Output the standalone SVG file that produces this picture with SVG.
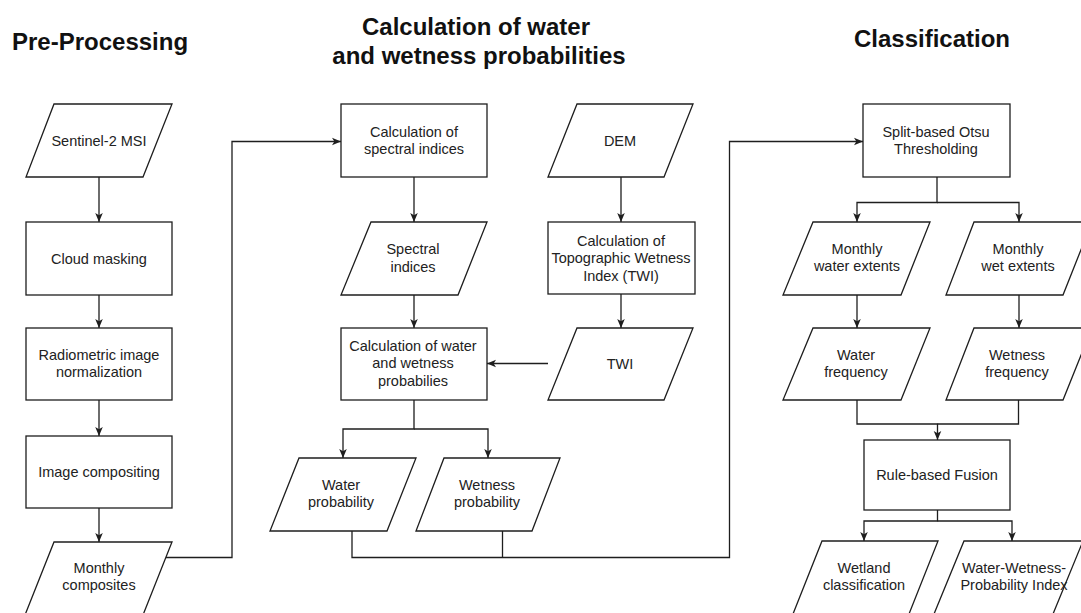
<svg xmlns="http://www.w3.org/2000/svg" width="1081" height="613" viewBox="0 0 1081 613">
<defs>
<marker id="arr" viewBox="0 0 10 10" refX="10" refY="5" markerWidth="9" markerHeight="9" markerUnits="userSpaceOnUse" orient="auto">
<path d="M0,0.8 L10,5 L0,9.2 L2.6,5 z" fill="#1e1e1e"/>
</marker>
<style>
.shape{fill:#fff;stroke:#1e1e1e;stroke-width:1.3}
.t{font-family:"Liberation Sans",Arial,sans-serif;font-size:14.5px;fill:#222;text-anchor:middle}
.h{font-family:"Liberation Sans",Arial,sans-serif;font-size:24px;font-weight:bold;fill:#111}
.c{fill:none;stroke:#1e1e1e;stroke-width:1.3}
.a{marker-end:url(#arr)}
</style>
</defs>
<rect width="1081" height="613" fill="#fff"/>

<g id="titles">
<text class="h" x="12" y="50">Pre-Processing</text>
<text class="h" text-anchor="middle"><tspan x="476" y="35">Calculation of water</tspan><tspan x="479" y="64">and wetness probabilities</tspan></text>
<text class="h" x="932" y="47" text-anchor="middle">Classification</text>
</g>

<g id="connectors">
<path class="c a" d="M99,177 V222"/>
<path class="c a" d="M99,295 V328"/>
<path class="c a" d="M99,400 V436"/>
<path class="c a" d="M99,508 V542"/>
<path class="c a" d="M166,557.5 H232 V141.5 H341"/>
<path class="c a" d="M414,177 V222"/>
<path class="c a" d="M414,295 V328"/>
<path class="c a" d="M621,177 V222"/>
<path class="c a" d="M621,294 V328"/>
<path class="c a" d="M548,363.5 H487"/>
<path class="c a" d="M414,400 V429 H343 V458"/>
<path class="c a" d="M414,429 H488 V458"/>
<path class="c a" d="M352,531 V557.5 H729.5 V141.5 H863"/>
<path class="c" d="M502.5,531 V557.5"/>
<path class="c a" d="M937,177 V202.5 H857 V222"/>
<path class="c a" d="M937,202.5 H1019 V222"/>
<path class="c a" d="M857,295 V328"/>
<path class="c a" d="M1019,295 V328"/>
<path class="c a" d="M857,400 V424 H937.5 V440"/>
<path class="c" d="M1018.5,400 V424 H937.5"/>
<path class="c a" d="M937.5,510 V521 H864 V541"/>
<path class="c a" d="M937.5,521 H1012 V541"/>
</g>

<g id="sentinel"><polygon class="shape" points="54,104 172,104 143,177 26,177"/><text class="t" x="99" y="145.5">Sentinel-2 MSI</text></g>
<g id="cloud"><rect class="shape" x="26" y="222" width="146" height="73"/><text class="t" x="99" y="263.5">Cloud masking</text></g>
<g id="radiometric"><rect class="shape" x="26" y="328" width="146" height="72"/><text class="t"><tspan x="99" y="360">Radiometric image</tspan><tspan x="99" y="377.3">normalization</tspan></text></g>
<g id="compositing"><rect class="shape" x="26" y="436" width="146" height="72"/><text class="t" x="99" y="477">Image compositing</text></g>
<g id="monthly-composites"><polygon class="shape" points="54,542 172,542 143,615 25,615"/><text class="t"><tspan x="99" y="573">Monthly</tspan><tspan x="99" y="590.3">composites</tspan></text></g>

<g id="calc-spectral"><rect class="shape" x="341" y="104" width="146" height="73"/><text class="t"><tspan x="414" y="136.5">Calculation of</tspan><tspan x="414" y="153.8">spectral indices</tspan></text></g>
<g id="spectral-indices"><polygon class="shape" points="371,222 487,222 458,295 341,295"/><text class="t"><tspan x="413" y="254.3">Spectral</tspan><tspan x="413" y="271.6">indices</tspan></text></g>
<g id="calc-water"><rect class="shape" x="341" y="328" width="146" height="72"/><text class="t"><tspan x="413" y="351">Calculation of water</tspan><tspan x="413" y="368.3">and wetness</tspan><tspan x="413" y="385.6">probabilies</tspan></text></g>
<g id="dem"><polygon class="shape" points="577,104 693,104 664,177 548,177"/><text class="t" x="620" y="145.5">DEM</text></g>
<g id="calc-twi"><rect class="shape" x="548" y="222" width="147" height="72"/><text class="t"><tspan x="621" y="246">Calculation of</tspan><tspan x="621" y="263.3">Topographic Wetness</tspan><tspan x="621" y="280.6">Index (TWI)</tspan></text></g>
<g id="twi"><polygon class="shape" points="577,328 693,328 664,400 548,400"/><text class="t" x="620" y="369">TWI</text></g>
<g id="water-prob"><polygon class="shape" points="299,458 416,458 387,531 270,531"/><text class="t"><tspan x="341" y="490">Water</tspan><tspan x="341" y="507.3">probability</tspan></text></g>
<g id="wetness-prob"><polygon class="shape" points="444,458 560,458 532,531 416,531"/><text class="t"><tspan x="487" y="490">Wetness</tspan><tspan x="487" y="507.3">probability</tspan></text></g>

<g id="otsu"><rect class="shape" x="863" y="104" width="147" height="73"/><text class="t"><tspan x="936" y="137">Split-based Otsu</tspan><tspan x="936" y="154.3">Thresholding</tspan></text></g>
<g id="water-extents"><polygon class="shape" points="813,222 930,222 901,295 783,295"/><text class="t"><tspan x="857" y="254">Monthly</tspan><tspan x="857" y="271.3">water extents</tspan></text></g>
<g id="wet-extents"><polygon class="shape" points="974,222 1092,222 1063,295 946,295"/><text class="t"><tspan x="1018" y="254">Monthly</tspan><tspan x="1018" y="271.3">wet extents</tspan></text></g>
<g id="water-freq"><polygon class="shape" points="813,328 930,328 901,400 783,400"/><text class="t"><tspan x="856" y="360">Water</tspan><tspan x="856" y="377.3">frequency</tspan></text></g>
<g id="wetness-freq"><polygon class="shape" points="974,328 1092,328 1063,400 946,400"/><text class="t"><tspan x="1017" y="360">Wetness</tspan><tspan x="1017" y="377.3">frequency</tspan></text></g>
<g id="fusion"><rect class="shape" x="864" y="440" width="146" height="70"/><text class="t" x="937" y="480">Rule-based Fusion</text></g>
<g id="wetland"><polygon class="shape" points="822,541 938,541 909,614 793,614"/><text class="t"><tspan x="864" y="573">Wetland</tspan><tspan x="864" y="590.3">classification</tspan></text></g>
<g id="wwpi"><polygon class="shape" points="964,541 1083,541 1053,614 934,614"/><text class="t"><tspan x="1014" y="573">Water-Wetness-</tspan><tspan x="1014" y="590.3">Probability Index</tspan></text></g>
</svg>
